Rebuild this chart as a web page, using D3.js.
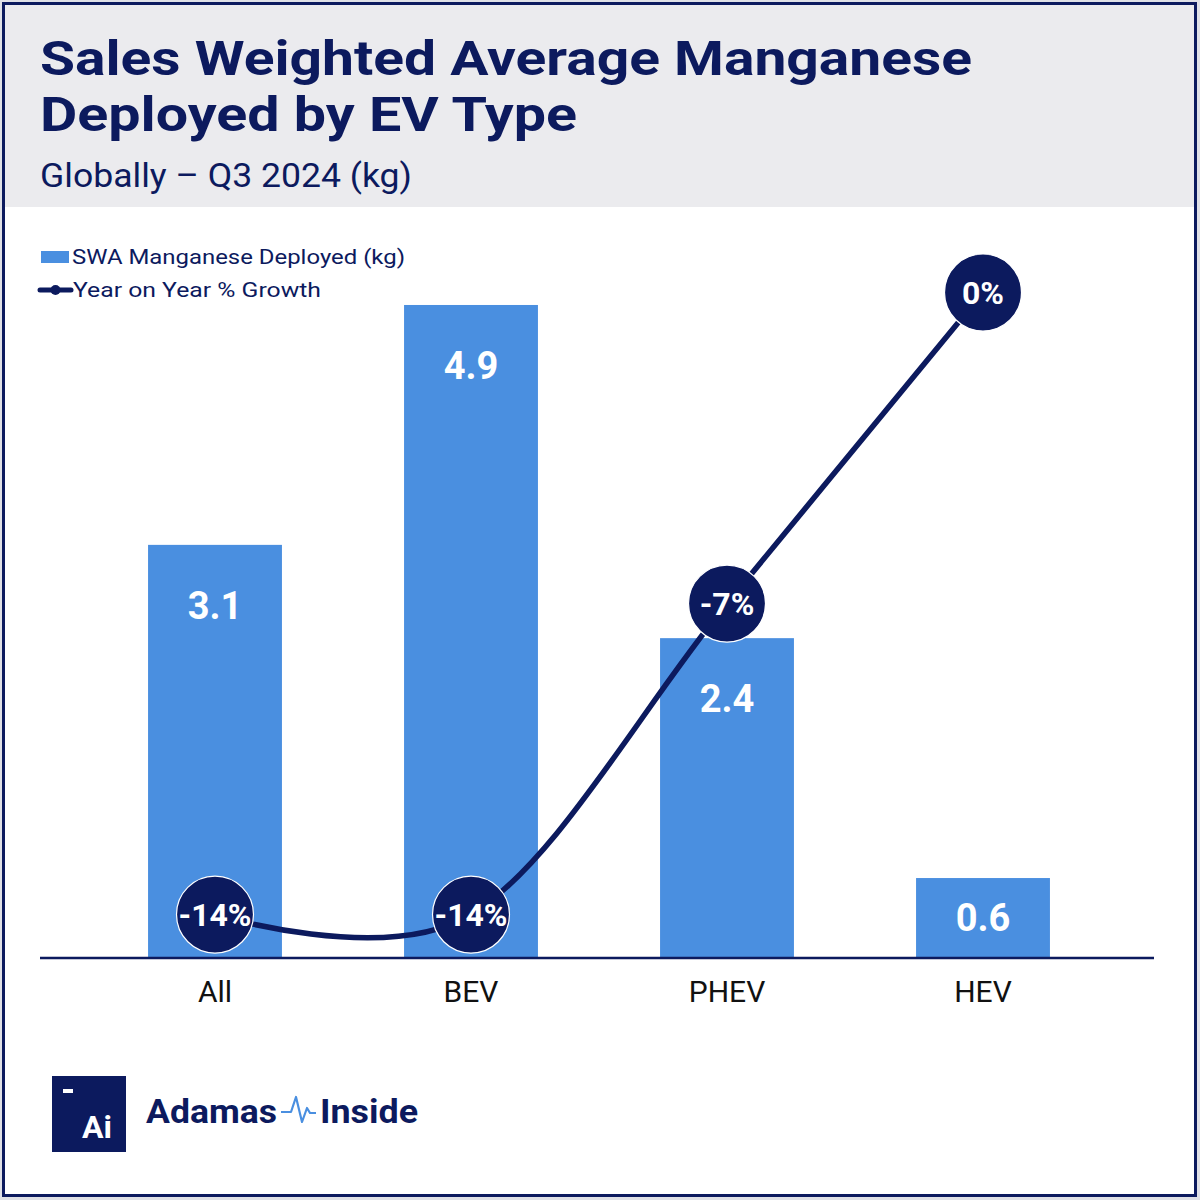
<!DOCTYPE html>
<html>
<head>
<meta charset="utf-8">
<script src="https://cdn.jsdelivr.net/npm/d3@7/dist/d3.min.js"></script>
<style>
  html, body { margin: 0; padding: 0; background: #dfe0e6; }
  svg { display: block; }
</style>
</head>
<body>
<svg id="chart" width="1200" height="1200"></svg>
<script>
// ---- data ----
const categories = ["All", "BEV", "PHEV", "HEV"];
const manganeseKg = [3.1, 4.9, 2.4, 0.6];
const yoyGrowth = [-14, -14, -7, 0];
const yoyLabels = ["-14%", "-14%", "-7%", "0%"];
const titleLines = ["Sales Weighted Average Manganese", "Deployed by EV Type"];
const subtitle = "Globally \u2013 Q3 2024 (kg)";
const legendLabels = ["SWA Manganese Deployed (kg)", "Year on Year % Growth"];

// ---- style ----
const NAVY = "#0c1a5e";
const BLUE = "#4a8fe0";
const FONT = "Roboto, 'DejaVu Sans', sans-serif";

const svg = d3.select("#chart");

// frame
svg.append("rect").attr("x", 3.5).attr("y", 3.5).attr("width", 1192).attr("height", 1192)
  .attr("fill", "#ffffff").attr("stroke", NAVY).attr("stroke-width", 3);
svg.append("rect").attr("x", 5).attr("y", 5).attr("width", 1189).attr("height", 202)
  .attr("fill", "#ebebee");

// title
svg.append("text").attr("x", 40).attr("y", 75).text(titleLines[0])
  .attr("font-family", FONT).attr("font-weight", 700).attr("font-size", 48)
  .attr("fill", NAVY).attr("textLength", 932).attr("lengthAdjust", "spacingAndGlyphs");
svg.append("text").attr("x", 40).attr("y", 131).text(titleLines[1])
  .attr("font-family", FONT).attr("font-weight", 700).attr("font-size", 48)
  .attr("fill", NAVY).attr("textLength", 537).attr("lengthAdjust", "spacingAndGlyphs");
svg.append("text").attr("x", 40).attr("y", 187).text(subtitle)
  .attr("font-family", FONT).attr("font-weight", 400).attr("font-size", 34)
  .attr("fill", NAVY).attr("textLength", 372).attr("lengthAdjust", "spacingAndGlyphs");

// scales
const x = d3.scaleBand().domain(categories).range([87, 1111])
  .paddingInner(0.477).paddingOuter(0.2385);
const yBar = d3.scaleLinear().domain([0, 5.2]).range([958, 265]);
const yLine = d3.scaleLinear().domain([-15, 0.5]).range([959, 270.3]);

// legend
const lg = svg.append("g");
lg.append("rect").attr("x", 41).attr("y", 251).attr("width", 28).attr("height", 12).attr("fill", BLUE);
lg.append("text").attr("x", 72).attr("y", 264).text(legendLabels[0])
  .attr("font-family", FONT).attr("font-size", 21).attr("fill", NAVY)
  .attr("textLength", 333).attr("lengthAdjust", "spacingAndGlyphs");
lg.append("line").attr("x1", 40).attr("x2", 71).attr("y1", 290).attr("y2", 290)
  .attr("stroke", NAVY).attr("stroke-width", 5).attr("stroke-linecap", "round");
lg.append("circle").attr("cx", 55.5).attr("cy", 290).attr("r", 5).attr("fill", NAVY);
lg.append("text").attr("x", 73).attr("y", 297).text(legendLabels[1])
  .attr("font-family", FONT).attr("font-size", 21).attr("fill", NAVY)
  .attr("textLength", 248).attr("lengthAdjust", "spacingAndGlyphs");

// bars
const data = categories.map((c, i) => ({ c, v: manganeseKg[i], g: yoyGrowth[i], gl: yoyLabels[i] }));

svg.append("g").selectAll("rect").data(data).join("rect")
  .attr("x", d => x(d.c)).attr("width", x.bandwidth())
  .attr("y", d => yBar(d.v)).attr("height", d => yBar(0) - yBar(d.v))
  .attr("fill", BLUE);

svg.append("g").selectAll("text").data(data).join("text")
  .attr("x", d => x(d.c) + x.bandwidth() / 2)
  .attr("y", d => Math.min(yBar(d.v) + 74, (yBar(d.v) + yBar(0)) / 2 + 13))
  .attr("text-anchor", "middle")
  .attr("font-family", FONT).attr("font-weight", 700).attr("font-size", 38)
  .attr("fill", "#ffffff")
  .text(d => d.v.toFixed(1));

// axis
svg.append("line").attr("x1", 40).attr("x2", 1154).attr("y1", 958).attr("y2", 958)
  .attr("stroke", NAVY).attr("stroke-width", 2.5);

const axis = svg.append("g").attr("transform", "translate(0,958)")
  .call(d3.axisBottom(x).tickSize(0).tickPadding(23));
axis.select(".domain").remove();
axis.selectAll("text").attr("font-family", FONT).attr("font-size", 30)
  .attr("fill", "#111111").attr("dy", "0.71em");

// line
const line = d3.line()
  .x(d => x(d.c) + x.bandwidth() / 2)
  .y(d => yLine(d.g))
  .curve(d3.curveCardinal.tension(0));

svg.append("path").datum(data).attr("d", line)
  .attr("fill", "none").attr("stroke", NAVY).attr("stroke-width", 5.5);

const pts = svg.append("g").selectAll("g").data(data).join("g")
  .attr("transform", d => `translate(${x(d.c) + x.bandwidth() / 2},${yLine(d.g)})`);
pts.append("circle").attr("r", 38.5).attr("fill", NAVY)
  .attr("stroke", "#ffffff").attr("stroke-width", 1.2);
pts.append("text").attr("text-anchor", "middle").attr("dy", 11)
  .attr("font-family", FONT).attr("font-weight", 700).attr("font-size", 32)
  .attr("fill", "#ffffff").text(d => d.gl);

// logo
const logo = svg.append("g");
logo.append("rect").attr("x", 52).attr("y", 1076).attr("width", 74).attr("height", 76).attr("fill", NAVY);
logo.append("rect").attr("x", 63).attr("y", 1089).attr("width", 10).attr("height", 4).attr("fill", "#ffffff");
logo.append("text").attr("x", 97).attr("y", 1138).attr("text-anchor", "middle").text("Ai")
  .attr("font-family", FONT).attr("font-weight", 700).attr("font-size", 32).attr("fill", "#ffffff");
logo.append("text").attr("x", 146).attr("y", 1123).text("Adamas")
  .attr("font-family", FONT).attr("font-weight", 700).attr("font-size", 33).attr("fill", NAVY)
  .attr("textLength", 131).attr("lengthAdjust", "spacingAndGlyphs");
logo.append("path")
  .attr("d", "M281,1112 L291,1112 L296,1097 L302,1122 L307,1108 L310,1113 L316,1113")
  .attr("fill", "none").attr("stroke", BLUE).attr("stroke-width", 2.2).attr("stroke-linejoin", "round");
logo.append("text").attr("x", 320).attr("y", 1123).text("Inside")
  .attr("font-family", FONT).attr("font-weight", 700).attr("font-size", 33).attr("fill", NAVY)
  .attr("textLength", 98).attr("lengthAdjust", "spacingAndGlyphs");
</script>
</body>
</html>
